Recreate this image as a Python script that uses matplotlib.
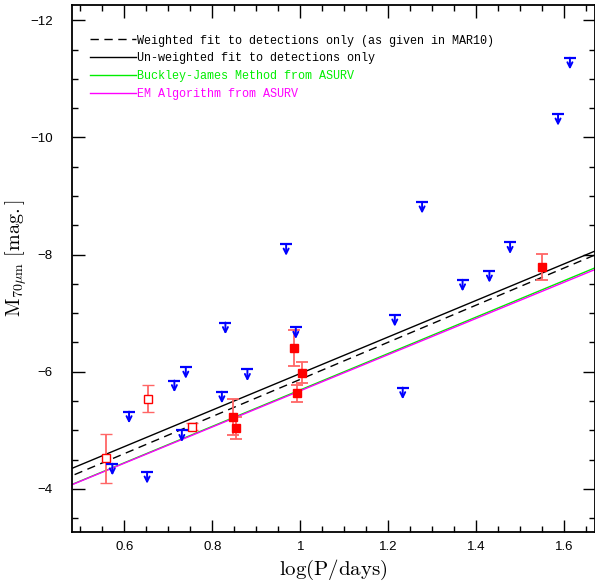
import numpy as np
import matplotlib
matplotlib.use('Agg')
import matplotlib.pyplot as plt

plt.rcParams['mathtext.fontset'] = 'cm'

# detections (open squares)
x_open = [0.558, 0.653, 0.755]
m_open = [-4.52, -5.54, -5.06]
e_open = [0.41, 0.23, 0.06]

# detections (filled squares)
x_fill = [0.847, 0.855, 0.986, 0.992, 1.005, 1.549]
m_fill = [-5.23, -5.04, -6.41, -5.63, -5.98, -7.79]
e_fill = [0.31, 0.19, 0.31, 0.14, 0.18, 0.22]

# upper limits
x_lim = [0.573, 0.611, 0.652, 0.714, 0.731, 0.740, 0.822, 0.830, 0.880, 0.968,
         0.990, 1.215, 1.233, 1.277, 1.369, 1.430, 1.477, 1.586, 1.613]
m_lim = [-4.43, -5.32, -4.29, -5.85, -5.00, -6.08, -5.66, -6.84, -6.04, -8.18,
         -6.76, -6.97, -5.73, -8.90, -7.57, -7.72, -8.21, -10.40, -11.36]

# fits: M = zp + slope * (logP - 1)
fit_labels = ['Weighted fit to detections only (as given in MAR10)',
              'Un-weighted fit to detections only',
              'Buckley-James Method from ASURV',
              'EM Algorithm from ASURV']
fit_slope = [-3.17, -3.12, -3.11, -3.09]
fit_zp = [-5.87, -5.97, -5.69, -5.675]
fit_color = ['black', 'black', '#00ee00', '#ff00ff']
fit_style = ['--', '-', '-', '-']

fig = plt.figure(figsize=(5.95, 5.88), dpi=100)
ax = fig.add_axes([0.1215, 0.0957, 0.8785, 0.8958])

xx = np.array([0.40, 1.80])
handles = []
for lab, b, a, c, ls in zip(fit_labels, fit_slope, fit_zp, fit_color, fit_style):
    h, = ax.plot(xx, a + b * (xx - 1), color=c, lw=1.0, ls=ls, label=lab)
    if ls == '--':
        h.set_dashes((6, 4))
    handles.append(h)

err_col = '#ff6666'
ax.errorbar(x_open, m_open, yerr=e_open, fmt='s', ms=6, mfc='white', mec='red',
            mew=1.0, ecolor=err_col, elinewidth=1.3, capsize=4, capthick=1.3, zorder=4)
ax.errorbar(x_fill, m_fill, yerr=e_fill, fmt='s', ms=6, mfc='red', mec='red',
            ecolor=err_col, elinewidth=1.3, capsize=4, capthick=1.3, zorder=4)

# upper limit symbols
for x, m in zip(x_lim, m_lim):
    ax.annotate('', xy=(x, m + 0.2), xytext=(x, m),
                arrowprops=dict(arrowstyle='->', color='blue', lw=1.4,
                                shrinkA=0, shrinkB=0, mutation_scale=9),
                zorder=5)
ax.plot(x_lim, m_lim, ls='none', marker='_', ms=8, mew=1.6, color='blue', zorder=5)

ax.set_xlim(0.482, 1.670)
ax.set_ylim(-3.27, -12.26)

ax.set_xticks([0.6, 0.8, 1.0, 1.2, 1.4, 1.6])
ax.set_xticklabels(['0.6', '0.8', '1', '1.2', '1.4', '1.6'])
ax.set_xticks(np.arange(0.5, 1.70, 0.05), minor=True)
ax.set_yticks([-12, -10, -8, -6, -4])
ax.set_yticks(np.arange(-12.0, -3.2, 0.5), minor=True)
ax.tick_params(which='both', direction='in', top=True, right=True,
               labelsize=9.5, width=1.0)
ax.tick_params(which='major', length=9)
ax.tick_params(which='minor', length=4.5)
ax.tick_params(axis='x', pad=7)
ax.tick_params(axis='y', pad=14)
for lbl in ax.get_xticklabels() + ax.get_yticklabels():
    lbl.set_family('Liberation Sans')
for sp in ax.spines.values():
    sp.set_linewidth(1.3)

ax.set_xlabel(r'$\mathrm{log(P/days)}$', fontsize=15, labelpad=3)
ax.set_ylabel(r'$\mathrm{M_{70\mu m}\ [mag.]}$', fontsize=14.5, labelpad=0)
ax.yaxis.set_label_coords(-0.082, 0.52)

ax.legend(handles=handles, loc='upper left', bbox_to_anchor=(0.014, 0.964),
          frameon=False, prop={'family': 'Liberation Mono', 'size': 8.45},
          labelcolor=fit_color, handlelength=3.9, handletextpad=0.1,
          labelspacing=0.5)

fig.savefig('out.png', dpi=100)
